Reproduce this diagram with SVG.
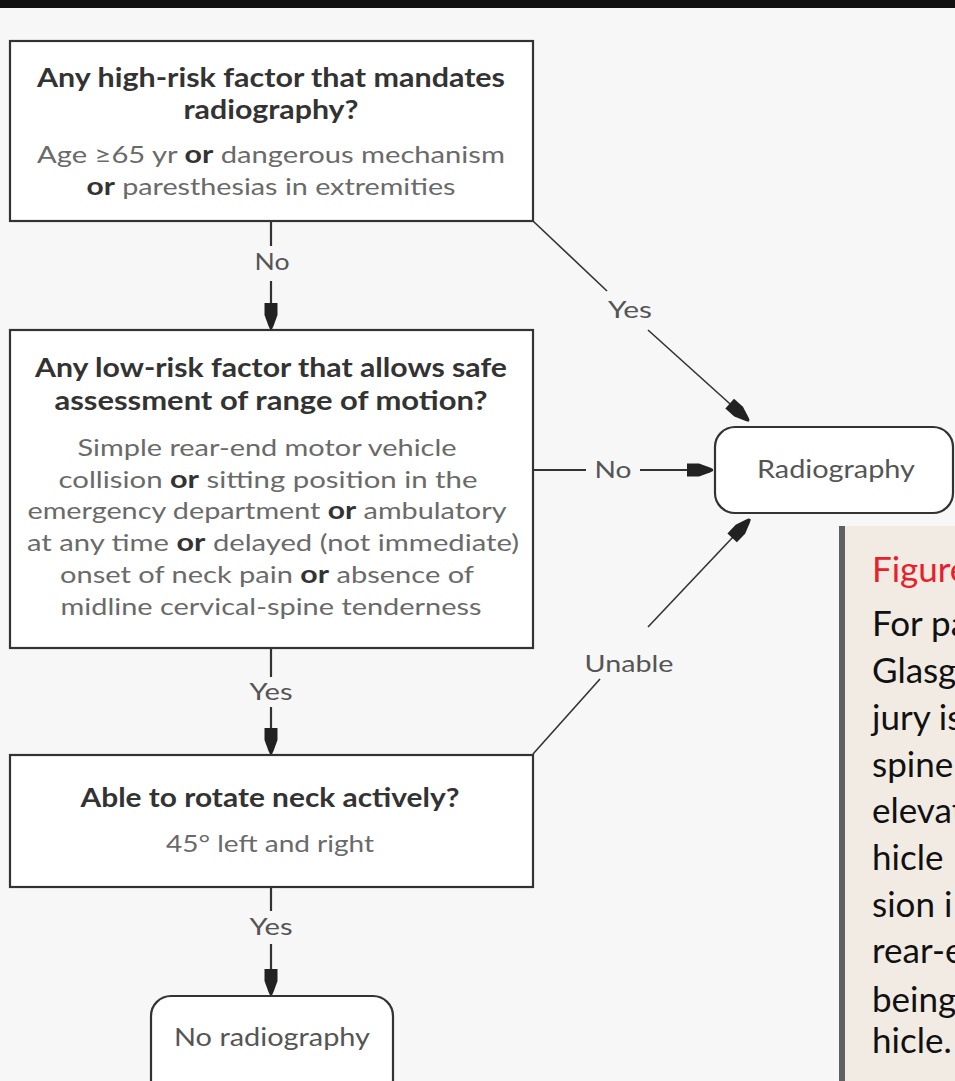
<svg xmlns="http://www.w3.org/2000/svg" width="955" height="1081" viewBox="0 0 955 1081">
<defs>
<style>
.box{fill:#fff;stroke:#333;stroke-width:2.2}
.term{fill:#fff;stroke:#333;stroke-width:2.2}
.ln{fill:none;stroke:#333;stroke-width:2.2}
.dg{fill:none;stroke:#333;stroke-width:1.6}
.t{font-family:Lato,"Open Sans","Liberation Sans",sans-serif;text-anchor:middle}
.h{font-size:26px;font-weight:bold;fill:#333}
.s{font-size:23px;fill:#6a6a6a}
.o{font-weight:bold;fill:#333;font-size:24px}
.lb{font-size:23px;fill:#555}
.tm{font-size:25px;fill:#555}
.p{font-family:Lato,"Open Sans","Liberation Sans",sans-serif;font-size:35px;fill:#111}
</style>
<marker id="ah" viewBox="-27 -7 27 14" refX="0" refY="0" markerWidth="27" markerHeight="14" markerUnits="userSpaceOnUse" orient="auto">
<path d="M-26,-6.5 L-14,-6.5 L-3,-2.5 L0,-1 L0,1 L-3,2.5 L-14,6.5 L-26,6.5 Z" fill="#222"/>
</marker>
</defs>
<rect x="0" y="0" width="955" height="1081" fill="#f7f7f7"/>
<rect x="0" y="0" width="955" height="8" fill="#111"/>

<g id="connectors">
<line class="ln" x1="271" y1="221" x2="271" y2="246"/>
<line class="ln" x1="271" y1="281" x2="271" y2="329" marker-end="url(#ah)"/>
<line class="dg" x1="533" y1="221" x2="607" y2="291"/>
<line class="dg" x1="648" y1="330" x2="749" y2="421" marker-end="url(#ah)"/>
<line class="ln" x1="533" y1="470" x2="586" y2="470"/>
<line class="ln" x1="640" y1="470" x2="713" y2="470" marker-end="url(#ah)"/>
<line class="dg" x1="533" y1="754" x2="600" y2="679"/>
<line class="dg" x1="648" y1="627" x2="750" y2="519" marker-end="url(#ah)"/>
<line class="ln" x1="271" y1="648" x2="271" y2="677"/>
<line class="ln" x1="271" y1="707" x2="271" y2="754" marker-end="url(#ah)"/>
<line class="ln" x1="271" y1="887" x2="271" y2="911"/>
<line class="ln" x1="271" y1="944" x2="271" y2="995" marker-end="url(#ah)"/>
<text class="t lb" x="272" y="270" textLength="35" lengthAdjust="spacingAndGlyphs">No</text>
<text class="t lb" x="630" y="318" textLength="44" lengthAdjust="spacingAndGlyphs">Yes</text>
<text class="t lb" x="613" y="478" textLength="37" lengthAdjust="spacingAndGlyphs">No</text>
<text class="t lb" x="629" y="672" textLength="89" lengthAdjust="spacingAndGlyphs">Unable</text>
<text class="t lb" x="271" y="700" textLength="43" lengthAdjust="spacingAndGlyphs">Yes</text>
<text class="t lb" x="271" y="935" textLength="43" lengthAdjust="spacingAndGlyphs">Yes</text>
</g>

<g id="high-risk">
<rect class="box" x="10" y="41" width="523" height="180"/>
<text class="t h" x="271" y="87" textLength="468" lengthAdjust="spacingAndGlyphs">Any high-risk factor that mandates</text>
<text class="t h" x="271" y="119" textLength="175" lengthAdjust="spacingAndGlyphs">radiography?</text>
<text class="t s" x="271" y="163" textLength="468" lengthAdjust="spacingAndGlyphs">Age ≥65 yr <tspan class="o">or</tspan> dangerous mechanism</text>
<text class="t s" x="271" y="195" textLength="369" lengthAdjust="spacingAndGlyphs"><tspan class="o">or</tspan> paresthesias in extremities</text>
</g>

<g id="low-risk">
<rect class="box" x="10" y="330" width="523" height="318"/>
<text class="t h" x="271" y="377" textLength="472" lengthAdjust="spacingAndGlyphs">Any low-risk factor that allows safe</text>
<text class="t h" x="271" y="410" textLength="433" lengthAdjust="spacingAndGlyphs">assessment of range of motion?</text>
<text class="t s" x="267" y="456" textLength="379" lengthAdjust="spacingAndGlyphs">Simple rear-end motor vehicle</text>
<text class="t s" x="268" y="488" textLength="419" lengthAdjust="spacingAndGlyphs">collision <tspan class="o">or</tspan> sitting position in the</text>
<text class="t s" x="267" y="519" textLength="479" lengthAdjust="spacingAndGlyphs">emergency department <tspan class="o">or</tspan> ambulatory</text>
<text class="t s" x="273" y="551" textLength="492" lengthAdjust="spacingAndGlyphs">at any time <tspan class="o">or</tspan> delayed (not immediate)</text>
<text class="t s" x="267" y="583" textLength="414" lengthAdjust="spacingAndGlyphs">onset of neck pain <tspan class="o">or</tspan> absence of</text>
<text class="t s" x="271" y="615" textLength="421" lengthAdjust="spacingAndGlyphs">midline cervical-spine tenderness</text>
</g>

<g id="rotate">
<rect class="box" x="10" y="755" width="523" height="132"/>
<text class="t h" x="270" y="807" textLength="379" lengthAdjust="spacingAndGlyphs">Able to rotate neck actively?</text>
<text class="t s" x="270" y="852" textLength="208" lengthAdjust="spacingAndGlyphs">45° left and right</text>
</g>

<g id="radiography">
<rect class="term" x="715" y="427" width="238" height="86" rx="20" ry="20"/>
<text class="t tm" x="836" y="478" textLength="158" lengthAdjust="spacingAndGlyphs">Radiography</text>
</g>

<g id="no-radiography">
<rect class="term" x="151" y="996" width="242" height="110" rx="20" ry="20"/>
<text class="t tm" x="272" y="1046" textLength="196" lengthAdjust="spacingAndGlyphs">No radiography</text>
</g>

<g id="caption-panel">
<rect x="839" y="526" width="116" height="555" fill="#f1ebe4"/>
<rect x="839" y="526" width="6" height="555" fill="#606062"/>
<text class="p" x="872" y="582" style="fill:#e8202a">Figure</text>
<text class="p" x="872" y="636">For pa</text>
<text class="p" x="872" y="683">Glasg</text>
<text class="p" x="872" y="730">jury is</text>
<text class="p" x="872" y="777">spine</text>
<text class="p" x="872" y="823">elevat</text>
<text class="p" x="872" y="870">hicle</text>
<text class="p" x="872" y="917">sion i</text>
<text class="p" x="872" y="963">rear-e</text>
<text class="p" x="872" y="1012">being</text>
<text class="p" x="872" y="1053">hicle.</text>
</g>
</svg>
